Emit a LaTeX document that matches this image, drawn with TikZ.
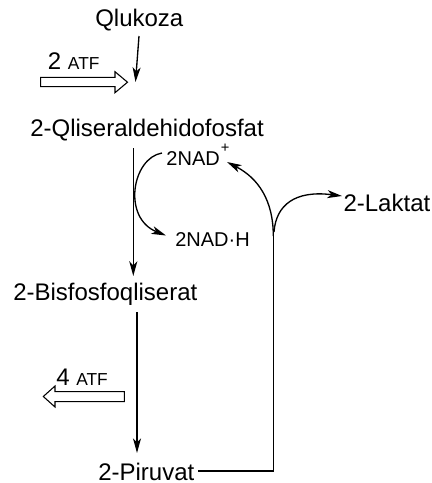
\documentclass[tikz,border=0pt]{standalone}
\usepackage{fontspec}
\setmainfont{Liberation Sans}
\usetikzlibrary{arrows.meta}
\begin{document}
\begin{tikzpicture}[x=0.75pt,y=-0.75pt,
  lbl/.style={anchor=base west,inner sep=0pt,font=\fontsize{18}{21}\selectfont},
  sml/.style={anchor=base west,inner sep=0pt,font=\fontsize{15}{18}\selectfont},
  sup/.style={anchor=base west,inner sep=0pt,font=\fontsize{11}{12}\selectfont},
  arr/.style={line width=1pt,-{Stealth[length=11pt,width=6pt,inset=3pt]}},
  conn/.style={line width=1pt},
  hollow/.style={line width=0.8pt,line join=miter}]
\useasboundingbox (0,0) rectangle (432,483);
% labels
\node[lbl] (qlu) at (95,26) {Qlukoza};
\node[lbl] (gap) at (30,136.7) {2-Qliseraldehidofosfat};
\node[lbl] (bpg) at (13,300) {2-Bisfosfoqliserat};
\node[lbl] (pir) at (98,480) {2-Piruvat};
\node[lbl] (lak) at (343.3,211.7) {2-Laktat};
\node[sml] (nad) at (166.2,165) {2NAD};
\node[sup] (plus) at (220.5,152.5) {+};
\node[sml] (nadh) at (175,246.7) {2NAD·H};
\node[lbl] (atfa) at (47.7,69.3) {2 {\fontsize{13}{15}\selectfont ATF}};
\node[lbl] (atfb) at (56,385) {4 {\fontsize{13}{15}\selectfont ATF}};
% connector end points
\coordinate (q1) at (139,36);
\coordinate (q2) at (135.5,82);
\coordinate (g1) at (133.3,148);
\coordinate (g2) at (133.3,276);
\coordinate (b1) at (137,312);
\coordinate (b2) at (137,453);
\coordinate (p1) at (198,471);
\coordinate (p2) at (273.3,471);
\coordinate (br) at (273.3,236);
\coordinate (n1) at (162,153);
\coordinate (n2) at (166,235.5);
\coordinate (nt) at (227,162);
\coordinate (lt) at (342,196);
% arrows
\draw[arr] (q1) -- (q2);
\draw[arr] (g1) -- (g2);
\draw[arr] (b1) -- (b2);
\draw[conn] (p1) -- (p2) -- (br);
\draw[arr] (br) .. controls (273.3,200) and (258,178) .. (nt);
\draw[arr] (274,232) .. controls (276,205) and (295,190) .. (lt);
\draw[arr] (n1) .. controls (132,158) and (122,218) .. (n2);
% hollow arrows
\draw[hollow] (40.7,77.3) -- (115,77.3) -- (115,71.7) -- (127.5,82.2) -- (115,92.7) -- (115,86.7) -- (40.7,86.7) -- cycle;
\draw[hollow] (124.3,391.7) -- (55,391.7) -- (55,386) -- (43.3,396.5) -- (55,407) -- (55,401.7) -- (124.3,401.7) -- cycle;
\end{tikzpicture}
\end{document}
